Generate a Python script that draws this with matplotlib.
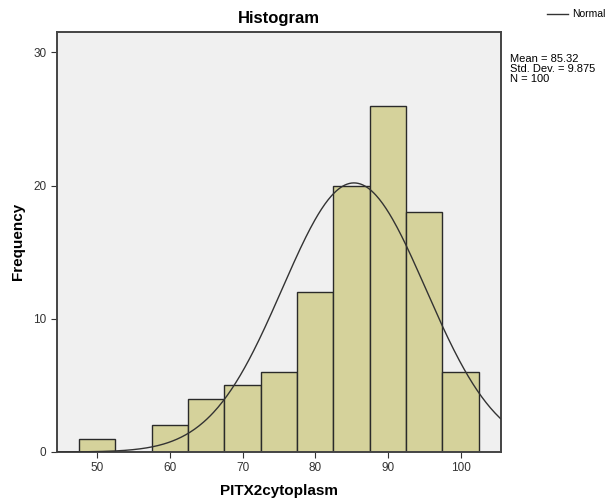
import matplotlib.pyplot as plt
import numpy as np

plt.rcParams['font.family'] = ['Liberation Sans', 'DejaVu Sans']

bin_edges = [47.5, 52.5, 57.5, 62.5, 67.5, 72.5, 77.5, 82.5, 87.5, 92.5, 97.5, 102.5]
counts = [1, 0, 2, 4, 5, 6, 12, 20, 26, 18, 6]
mean, std, n = 85.32, 9.875, 100
xticks = [50, 60, 70, 80, 90, 100]
yticks = [0, 10, 20, 30]

fig = plt.figure(figsize=(6.09, 5.0), dpi=100)
ax = fig.add_axes([0.093, 0.096, 0.729, 0.8406])
ax.set_facecolor('#f0f0f0')

lefts = bin_edges[:-1]
widths = np.diff(bin_edges)
ax.bar(lefts, counts, width=widths, align='edge', color='#d5d29b',
       edgecolor='#2a2a2a', linewidth=1.0, zorder=2)

bw = widths[0]
xs = np.linspace(44.4, 105.5, 400)
ys = n * bw / (std * np.sqrt(2 * np.pi)) * np.exp(-0.5 * ((xs - mean) / std) ** 2)
line, = ax.plot(xs, ys, color='#333333', linewidth=1.0, zorder=3)

ax.set_xlim(44.4, 105.5)
ax.set_ylim(0, 31.55)
ax.set_xticks(xticks)
ax.set_yticks(yticks)
ax.tick_params(labelsize=8.5, labelcolor='#333333', color='#333333', length=4, width=0.8)
for s in ax.spines.values():
    s.set_color('#444444')
    s.set_linewidth(1.4)

ax.set_xlabel('PITX2cytoplasm', fontsize=11, fontweight='bold', labelpad=7)
ax.set_ylabel('Frequency', fontsize=11, fontweight='bold', labelpad=6)
ax.set_title('Histogram', fontsize=12, fontweight='bold', pad=6)

fig.text(0.838, 0.893, f'Mean = {mean}\nStd. Dev. = {std}\nN = {n}',
         fontsize=8, va='top', ha='left', linespacing=1.0)
fig.legend([line], ['Normal'], loc='upper right', bbox_to_anchor=(1.01, 1.0),
           frameon=False, fontsize=7.5, handlelength=2.0, handletextpad=0.4)

fig.savefig('out.png', dpi=100)
